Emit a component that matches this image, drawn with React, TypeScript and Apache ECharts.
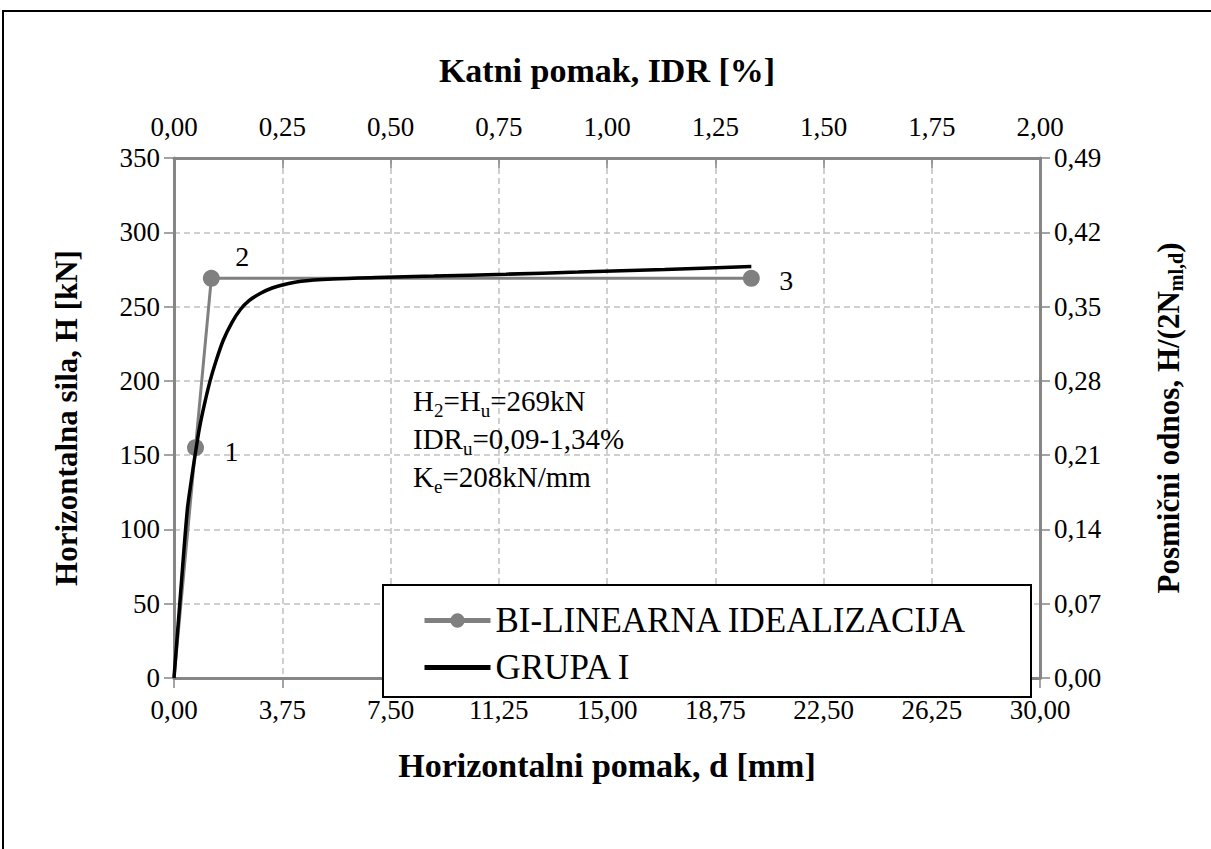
import React, { useEffect, useRef } from "react";
import * as echarts from "echarts";

const bilinearD = [0, 0.745, 1.293, 20.0];
const bilinearH = [0, 155, 269, 269];
const pointLabels = ["", "1", "2", "3"];

const curveD = [0, 0.2, 0.46, 0.6, 0.73, 0.88, 1.04, 1.25, 1.45, 1.7, 2.0, 2.3, 2.6, 3.0, 3.4, 3.75, 4.4, 5.5, 7, 9, 11.5, 14, 17, 20.0];
const curveH = [0, 50, 113, 133, 150, 168, 183, 200, 213, 227, 239, 248, 254, 259, 262.5, 264.5, 267, 268.5, 269.5, 270.5, 271.8, 273.2, 275, 277];

const FONT = "'Times New Roman', 'Liberation Serif', serif";
const GRAY = "#808080";
const AXIS = "#868686";

const comma = (v: number, d: number) => v.toFixed(d).replace(".", ",");

export default function App() {
  const ref = useRef<HTMLDivElement>(null);
  useEffect(() => {
    if (!ref.current) return;
    const chart = echarts.init(ref.current, null, { renderer: "svg" });
    const labelOffsets: any[] = [null, [36, 4], [31, -22], [35, 2]];
    const grayData = bilinearD.map((d, i) =>
      i === 0
        ? { value: [d, bilinearH[i]], symbol: "none" }
        : {
            value: [d, bilinearH[i]],
            label: {
              show: true,
              formatter: pointLabels[i],
              position: "inside",
              offset: labelOffsets[i],
              color: "#000",
              fontFamily: FONT,
              fontSize: 28,
            },
          }
    );
    const blackData = curveD.map((d, i) => [d, curveH[i]]);
    const tickLabel = { fontFamily: FONT, fontSize: 27, color: "#000" };
    const hName = { fontFamily: FONT, fontSize: 34, fontWeight: "bold" as const, color: "#000" };
    const vName = { fontFamily: FONT, fontSize: 31, fontWeight: "bold" as const, color: "#000" };
    chart.setOption({
      animation: false,
      backgroundColor: "#fff",
      grid: { left: 174, top: 158, width: 866, height: 520 },
      xAxis: [
        {
          type: "value",
          position: "bottom",
          min: 0,
          max: 30,
          interval: 3.75,
          name: "Horizontalni pomak, d [mm]",
          nameLocation: "middle",
          nameGap: 70,
          nameTextStyle: hName,
          axisLine: { show: true, onZero: false, lineStyle: { color: AXIS, width: 3 } },
          axisTick: { show: true, length: 10, lineStyle: { color: AXIS, width: 1.5 } },
          axisLabel: { ...tickLabel, margin: 18, formatter: (v: number) => comma(v, 2) },
          splitLine: { show: true, lineStyle: { color: "#c0c0c0", type: [6, 4], width: 1.5 } },
        },
        {
          type: "value",
          position: "top",
          min: 0,
          max: 200,
          interval: 25,
          name: "Katni pomak, IDR [%]",
          nameLocation: "middle",
          nameGap: 71,
          nameTextStyle: hName,
          axisLine: { show: true, onZero: false, lineStyle: { color: AXIS, width: 3 } },
          axisTick: { show: true, inside: true, length: 10, lineStyle: { color: AXIS, width: 1.5 } },
          axisLabel: { ...tickLabel, margin: 18, formatter: (v: number) => comma(v / 100, 2) },
          splitLine: { show: false },
        },
      ],
      yAxis: [
        {
          type: "value",
          position: "left",
          min: 0,
          max: 350,
          interval: 50,
          name: "Horizontalna sila, H [kN]",
          nameLocation: "middle",
          nameGap: 92,
          nameRotate: 90,
          nameTextStyle: vName,
          axisLine: { show: true, onZero: false, lineStyle: { color: AXIS, width: 3 } },
          axisTick: { show: true, length: 10, lineStyle: { color: AXIS, width: 1.5 } },
          axisLabel: { ...tickLabel, margin: 14 },
          splitLine: { show: true, lineStyle: { color: "#c0c0c0", type: [6, 4], width: 1.5 } },
        },
        {
          type: "value",
          position: "right",
          min: 0,
          max: 49,
          interval: 7,
          name: "{b|Posmični odnos, H/(2N}{s|ml,d}{b|)}",
          nameLocation: "middle",
          nameGap: 110,
          nameRotate: 90,
          nameTextStyle: {
            ...vName,
            rich: {
              b: { fontFamily: FONT, fontSize: 31, fontWeight: "bold", color: "#000", lineHeight: 36 },
              s: { fontFamily: FONT, fontSize: 20, fontWeight: "bold", color: "#000", verticalAlign: "bottom", lineHeight: 22 },
            },
          },
          axisLine: { show: true, onZero: false, lineStyle: { color: AXIS, width: 3 } },
          axisTick: { show: true, length: 10, lineStyle: { color: AXIS, width: 1.5 } },
          axisLabel: { ...tickLabel, margin: 14, formatter: (v: number) => comma(v / 100, 2) },
          splitLine: { show: false },
        },
      ],
      legend: {
        orient: "vertical",
        left: 417,
        top: 598,
        z: 10,
        itemWidth: 66,
        itemHeight: 18,
        itemGap: 12,
        textStyle: { fontFamily: FONT, fontSize: 35, color: "#000" },
        data: [
          { name: "BI-LINEARNA IDEALIZACIJA", lineStyle: { width: 5 } },
          { name: "GRUPA I", lineStyle: { width: 5 }, itemStyle: { opacity: 0 } },
        ],
      },
      graphic: [
        {
          type: "rect",
          z: 1,
          silent: true,
          shape: { x: 3, y: 11, width: 1230, height: 880 },
          style: { fill: "none", stroke: "#000", lineWidth: 2 },
        },
        {
          type: "rect",
          z: 9,
          silent: true,
          shape: { x: 383, y: 585, width: 648, height: 112 },
          style: { fill: "#fff", stroke: "#000", lineWidth: 2 },
        },
        {
          type: "text",
          z: 9,
          left: 413,
          top: 386,
          style: {
            text: "{n|H}{s|2}{n|=H}{s|u}{n|=269kN}\n{n|IDR}{s|u}{n|=0,09-1,34%}\n{n|K}{s|e}{n|=208kN/mm}",
            rich: {
              n: { fontFamily: FONT, fontSize: 29, color: "#000", lineHeight: 38 },
              s: { fontFamily: FONT, fontSize: 19, color: "#000", lineHeight: 22, verticalAlign: "bottom" },
            },
          },
        },
      ],
      series: [
        {
          name: "BI-LINEARNA IDEALIZACIJA",
          type: "line",
          xAxisIndex: 0,
          yAxisIndex: 0,
          z: 2,
          symbol: "circle",
          symbolSize: 17,
          itemStyle: { color: GRAY },
          lineStyle: { color: GRAY, width: 3 },
          data: grayData,
        },
        {
          name: "GRUPA I",
          type: "line",
          xAxisIndex: 0,
          yAxisIndex: 0,
          z: 3,
          symbol: "none",
          smooth: 0.3,
          itemStyle: { color: "#000" },
          lineStyle: { color: "#000", width: 3.5 },
          data: blackData,
        },
      ],
    });
    return () => chart.dispose();
  }, []);
  return <div ref={ref} style={{ position: "fixed", left: 0, top: 0, width: 1211, height: 849 }} />;
}
